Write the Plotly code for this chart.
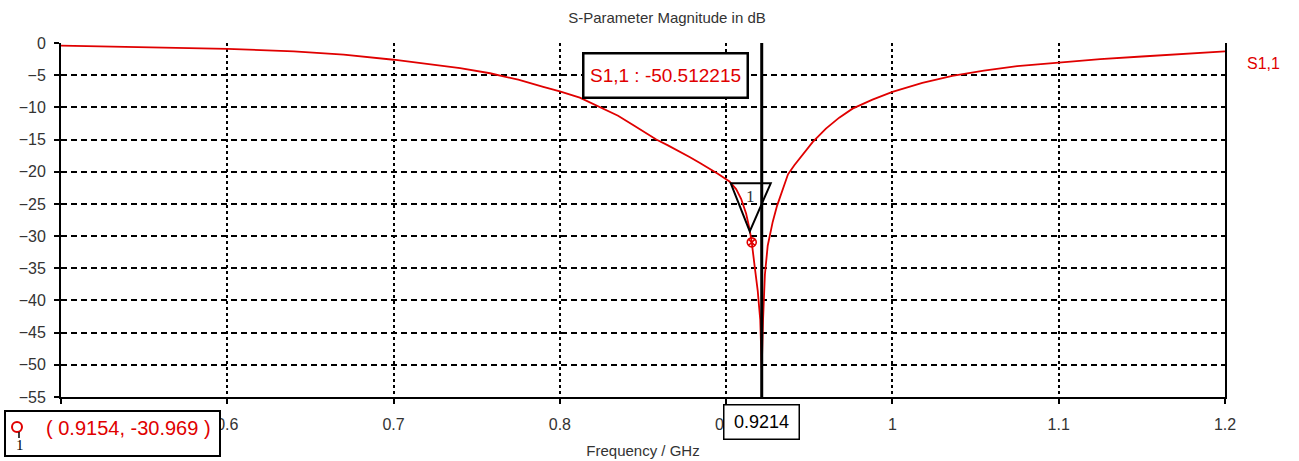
import plotly.graph_objects as go

# S1,1 magnitude sweep (GHz, dB)
freq_ghz = [0.50, 0.55, 0.60, 0.64, 0.67, 0.70, 0.72, 0.74, 0.758, 0.775,
            0.79, 0.80, 0.812, 0.824, 0.835, 0.845, 0.858, 0.865, 0.872,
            0.878, 0.884, 0.89, 0.895, 0.902, 0.906, 0.909, 0.912, 0.914,
            0.9154, 0.9173, 0.919, 0.9205, 0.9214, 0.9222, 0.9233, 0.925,
            0.9263, 0.928, 0.9306, 0.934, 0.9372, 0.941, 0.9444, 0.952,
            0.96, 0.968, 0.976, 0.988, 1.00, 1.018, 1.036, 1.055, 1.075,
            1.10, 1.125, 1.15, 1.175, 1.20]
s11_db = [-0.4, -0.6, -0.9, -1.3, -1.8, -2.6, -3.2, -3.9, -4.7, -5.7,
          -6.8, -7.5, -8.5, -9.9, -11.3, -12.9, -15.0, -15.9, -16.8,
          -17.7, -18.6, -19.5, -20.3, -21.5, -22.7, -24.2, -26.5, -28.8,
          -30.969, -35.0, -38.5, -43.0, -50.512215, -43.0, -36.0, -31.5,
          -29.7, -27.8, -25.3, -22.8, -20.4, -19.0, -17.9, -15.4,
          -13.3, -11.6, -10.2, -8.8, -7.6, -6.2, -5.1, -4.3, -3.6,
          -3.0, -2.5, -2.1, -1.7, -1.3]
series_name = "S1,1"

# Marker 1 and the vertical readout line
marker_f, marker_db = 0.9154, -30.969
cursor_f, cursor_db = 0.9214, -50.512215

y_ticks = [0, -5, -10, -15, -20, -25, -30, -35, -40, -45, -50, -55]
x_ticks = [0.5, 0.6, 0.7, 0.8, 0.9, 1.0, 1.1, 1.2]
# the 0.5 label sits under the readout box, so it is left blank
x_tick_text = ["", "0.6", "0.7", "0.8", "0.9", "1", "1.1", "1.2"]

RED = "#e00000"
FONT = "Liberation Sans"

# plot-area geometry in pixels (used for paper-coordinate conversion)
L, R, T, B = 61, 74, 43, 64
W, H = 1299, 461
PW, PH = W - L - R, H - T - B


def px_x(px):
    return (px - L) / PW


def px_y(py):
    return (H - B - py) / PH


fig = go.Figure()
fig.add_trace(go.Scatter(
    x=freq_ghz, y=s11_db, mode="lines", name=series_name,
    line=dict(color=RED, width=1.8), showlegend=False, hoverinfo="skip",
))
fig.add_trace(go.Scatter(
    x=[marker_f], y=[marker_db], mode="markers", showlegend=False,
    marker=dict(symbol="circle-x-open", size=9, color=RED, line=dict(width=1.6, color=RED)),
))

shapes = [
    # vertical cursor line
    dict(type="line", xref="x", yref="paper", x0=cursor_f, x1=cursor_f, y0=0, y1=1,
         line=dict(color="black", width=3), layer="above"),
    # triangle marker tag above marker 1
    dict(type="path", xref="x", yref="y", xsizemode="pixel", ysizemode="pixel",
         xanchor=marker_f, yanchor=marker_db,
         path="M -2 11 L -21 59 L 19 59 Z",
         line=dict(color="black", width=2), fillcolor="rgba(0,0,0,0)", layer="above"),
    # bottom-left readout box
    dict(type="rect", xref="paper", yref="paper",
         x0=px_x(5), x1=px_x(220), y0=px_y(456), y1=px_y(411),
         line=dict(color="black", width=2), fillcolor="white", layer="above"),
    # marker icon in the readout box
    dict(type="circle", xref="paper", yref="paper",
         x0=px_x(12), x1=px_x(22), y0=px_y(432), y1=px_y(422),
         line=dict(color=RED, width=2), fillcolor="white", layer="above"),
    dict(type="line", xref="paper", yref="paper",
         x0=px_x(19), x1=px_x(19), y0=px_y(438), y1=px_y(432),
         line=dict(color="black", width=1.5), layer="above"),
]

annotations = [
    # cursor value box
    dict(x=cursor_f, xref="x", y=px_y(75), yref="paper", xanchor="right", yanchor="middle",
         xshift=-13, text=f"{series_name} : {cursor_db:.6f}", showarrow=False,
         font=dict(family=FONT, size=19, color=RED), bgcolor="white",
         bordercolor="black", borderwidth=2.5, borderpad=2, width=158, height=38),
    # cursor frequency box
    dict(x=cursor_f, xref="x", y=px_y(422), yref="paper", xanchor="center", yanchor="middle",
         text=f"{cursor_f:.4f}", showarrow=False,
         font=dict(family=FONT, size=18, color="black"), bgcolor="white",
         bordercolor="black", borderwidth=1.5, borderpad=1, width=72, height=31),
    # triangle label
    dict(x=marker_f, xref="x", y=marker_db, yref="y", yshift=46, xshift=-1,
         text="1", showarrow=False, font=dict(family="Liberation Serif", size=17, color="#333")),
    # readout text
    dict(x=px_x(213), xref="paper", y=px_y(428), yref="paper", xanchor="right", yanchor="middle",
         text=f"( {marker_f:.4f}, {marker_db:.3f} )", showarrow=False,
         font=dict(family=FONT, size=20, color=RED)),
    dict(x=px_x(20), xref="paper", y=px_y(445), yref="paper", xanchor="center", yanchor="middle",
         text="1", showarrow=False, font=dict(family="Liberation Serif", size=15, color="black")),
    # series label on the right
    dict(x=px_x(1245), xref="paper", y=px_y(63), yref="paper", xanchor="left", yanchor="middle",
         text=series_name, showarrow=False, font=dict(family=FONT, size=16, color=RED)),
]

fig.update_layout(
    width=W, height=H,
    margin=dict(l=L, r=R, t=T, b=B, autoexpand=False),
    paper_bgcolor="white", plot_bgcolor="white",
    title=dict(text="S-Parameter Magnitude in dB", x=px_x(667), xref="paper",
               y=1 - 18 / H, yanchor="middle", xanchor="center",
               font=dict(family=FONT, size=15, color="#333")),
    font=dict(family=FONT, size=16, color="#333"),
    shapes=shapes, annotations=annotations,
)
fig.update_xaxes(
    range=[0.5, 1.2], tickvals=x_ticks, ticktext=x_tick_text,
    showline=True, linecolor="black", linewidth=2, mirror=False,
    ticks="outside", ticklen=5, tickcolor="black", tickwidth=1.5,
    showgrid=True, gridcolor="black", gridwidth=1.5, griddash="3px,3px",
    zeroline=False, ticklabelstandoff=7,
    title=dict(text="Frequency / GHz", standoff=13, font=dict(family=FONT, size=15, color="#333")),
    automargin=False,
)
fig.update_yaxes(
    range=[-55, 0], tickvals=y_ticks,
    showline=True, linecolor="black", linewidth=2, mirror=True,
    ticks="outside", ticklen=5, tickcolor="black", tickwidth=1.5,
    showgrid=True, gridcolor="black", gridwidth=1.5, griddash="6px,4px",
    zeroline=False, ticklabelstandoff=5, automargin=False,
)

fig.write_html("out.html")
